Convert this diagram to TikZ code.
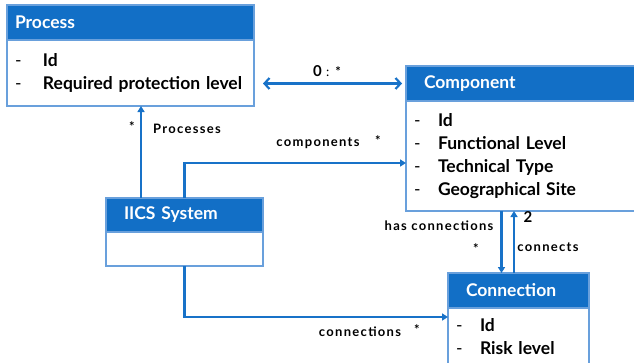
\documentclass[tikz,border=0pt]{standalone}
\usepackage{fontspec}
\setmainfont{Lato}
\newfontfamily\lblfont{Lato}[LetterSpace=10]
\usetikzlibrary{positioning,arrows.meta}

\definecolor{hdblue}{RGB}{18,111,198}
\definecolor{lnblue}{RGB}{24,114,200}
\definecolor{bdblue}{RGB}{105,160,220}

\newcommand{\attr}[2][24pt]{\makebox[#1][l]{\mdseries-}#2}

\begin{document}
\begin{tikzpicture}[x=1pt, y=-1pt,
	head/.style = {draw=bdblue, line width=1.2pt, fill=hdblue, text=white, anchor=north west,
		inner xsep=18pt, inner ysep=0pt, outer sep=0pt, minimum height=35pt, align=left,
		text width=#1, font=\bfseries\fontsize{17.5}{20}\selectfont},
	body/.style = {draw=bdblue, line width=1.2pt, fill=white, anchor=north west,
		inner xsep=8pt, inner ysep=0pt, outer sep=0pt, align=left,
		text width=#1, font=\bfseries\fontsize{17.5}{23}\selectfont},
	lbl/.style = {inner sep=0pt, font=\lblfont\bfseries\fontsize{13}{15}\selectfont},
	link/.style = {draw=lnblue, line width=2.2pt, -{Triangle[length=6pt,width=7pt]}},
	biarr/.style = {draw=lnblue, line width=2.2pt, {Straight Barb[length=5pt,width=11pt]}-{Straight Barb[length=5pt,width=11pt]}}]
	\useasboundingbox (0,0) rectangle (634,362);
	\clip (0,0) rectangle (634,362);

	% classes
	\node[head=231pt, inner xsep=8pt] (procH) at (7,5) {Process};
	\node[body=231pt, minimum height=66pt] (procB) at (procH.south west) {\attr[28pt]{Id}\\ \attr[28pt]{Required protection level}};

	\node[head=204pt] (compH) at (406,66) {Component};
	\node[body=224pt, minimum height=110pt] (compB) at (compH.south west) {\attr{Id}\\ \attr{Functional Level}\\ \attr{Technical Type}\\ \attr{Geographical Site}};

	\node[head=121pt, minimum height=34pt] (iicsH) at (106,198) {IICS System};
	\node[body=141pt, minimum height=34pt] (iicsB) at (iicsH.south west) {};

	\node[head=105pt] (connH) at (448,273) {Connection};
	\node[body=125pt, minimum height=57pt] (connB) at (connH.south west) {\attr{Id}\\ \attr{Risk level}};

	% links
	\draw[biarr, shorten <=9pt, shorten >=4pt] (procB.east |- compH.west) -- (compH.west);
	\draw[link] ([xshift=35pt]iicsH.north west) -- ([xshift=35pt]iicsH.north west |- procB.south);
	\draw[link] (iicsH.north) |- ([yshift=-7pt]compB.west);
	\draw[link] (iicsB.south) |- ([yshift=-9pt]connB.north west);
	\draw[link] ([xshift=-17pt]connH.north |- compB.south) -- ([xshift=-17pt]connH.north);
	\draw[link] ([xshift=-4.5pt]connH.north) -- ([xshift=-4.5pt]connH.north |- compB.south);

	% labels
	\node[lbl] (l1) at (327,71) {{\fontsize{15}{15}\selectfont 0} {\mdseries:} *};
	\node[lbl] (l2) at (132,127) {*};
	\node[lbl] (l3) at (187,129) {Processes};
	\node[lbl] (l4) at (318,143) {components};
	\node[lbl] (l5) at (378,141) {*};
	\node[lbl] (l6) at (439,226) {has connections};
	\node[lbl] (l7) at (476,249) {*};
	\node[lbl, font=\bfseries\fontsize{15}{15}\selectfont] (l8) at (528,217) {2};
	\node[lbl] (l9) at (548,247) {connects};
	\node[lbl] (l10) at (360,332) {connections};
	\node[lbl] (l11) at (417,330) {*};
\end{tikzpicture}
\end{document}
